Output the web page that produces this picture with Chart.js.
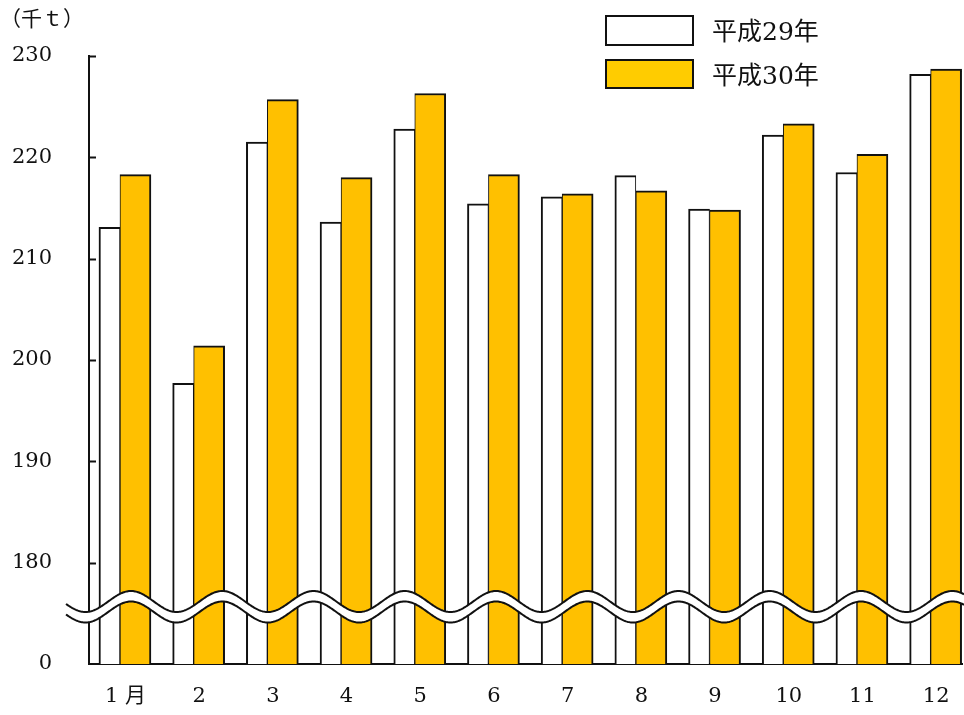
<!DOCTYPE html>
<html lang="ja">
<head>
  <meta charset="UTF-8">
  <title>月別 平成29年・平成30年（千t）</title>
  <style>
    html, body { margin: 0; padding: 0; background: #fff; }
    #wrap { width: 964px; height: 715px; }
  </style>
</head>
<body>
  <div id="wrap"><canvas id="chartCanvas" width="964" height="715"></canvas></div>

  <script src="https://cdn.jsdelivr.net/npm/chart.js"></script>
  <script>
    // 月ラベル
    const months = ['1 月', '2', '3', '4', '5', '6', '7', '8', '9', '10', '11', '12'];
    // 系列名
    const seriesNames = ['平成29年', '平成30年'];
    // 値（千t）
    const h29 = [213.1, 197.7, 221.5, 213.6, 222.8, 215.4, 216.1, 218.2, 214.9, 222.2, 218.5, 228.2];
    const h30 = [218.3, 201.4, 225.7, 218.0, 226.3, 218.3, 216.4, 216.7, 214.8, 223.3, 220.3, 228.7];
    // 縦軸（170 の位置に「0」を表示する省略軸）
    const yTicks = [170, 180, 190, 200, 210, 220, 230];
    const yTickLabels = ['0', '180', '190', '200', '210', '220', '230'];

    const numFont = "'DejaVu Serif', 'Liberation Serif', 'Noto Sans CJK JP', serif";
    const ink = '#111';

    // 軸の内向き目盛り・波線・単位・凡例
    const decorations = {
      id: 'decorations',
      afterDraw(chart) {
        const { ctx, chartArea } = chart;
        const y = chart.scales.y;
        ctx.save();

        // 内向きの目盛り
        ctx.strokeStyle = ink;
        ctx.lineWidth = 2;
        yTicks.slice(1).forEach(v => {
          const py = Math.round(y.getPixelForValue(v)) + 0.5;
          ctx.beginPath();
          ctx.moveTo(chartArea.left, py);
          ctx.lineTo(chartArea.left + 7, py);
          ctx.stroke();
        });

        // 省略の波線
        const P = 91.25, x0 = 131, amp = 10.5, gap = 10.5;
        const yc = chartArea.bottom - 62.5;
        const xs = 66, xe = chart.width;
        const wy = x => yc - amp * Math.cos(2 * Math.PI * (x - x0) / P);
        ctx.beginPath();
        for (let x = xs; x <= xe; x++) ctx.lineTo(x, wy(x));
        for (let x = xe; x >= xs; x--) ctx.lineTo(x, wy(x) + gap);
        ctx.closePath();
        ctx.fillStyle = '#fff';
        ctx.fill();
        [0, gap].forEach(off => {
          ctx.beginPath();
          for (let x = xs; x <= xe; x++) ctx.lineTo(x, wy(x) + off);
          ctx.stroke();
        });

        // 単位
        ctx.fillStyle = ink;
        ctx.textBaseline = 'middle';
        ctx.textAlign = 'left';
        ctx.font = "21px 'Noto Sans CJK JP', serif";
        ctx.fillText('（千ｔ）', 0, 18);

        // 凡例
        const fills = ['#ffffff', '#ffcc00'];
        const boxes = [[606, 16, 87, 29], [606, 60, 87, 28]];
        chart.data.datasets.forEach((ds, i) => {
          const [bx, by, bw, bh] = boxes[i];
          ctx.fillStyle = fills[i];
          ctx.fillRect(bx, by, bw, bh);
          ctx.lineWidth = 2;
          ctx.strokeStyle = ink;
          ctx.strokeRect(bx, by, bw, bh);
          ctx.fillStyle = ink;
          ctx.font = "25px " + numFont;
          ctx.fillText(ds.label, 712, by + bh / 2 + 3);
        });

        ctx.restore();
      }
    };

    const ctx = document.getElementById('chartCanvas').getContext('2d');
    const chart = new Chart(ctx, {
      type: 'bar',
      data: {
        datasets: [
          {
            label: seriesNames[0],
            data: h29.map((v, i) => ({ x: i + 1, y: v })),
            backgroundColor: '#ffffff',
            borderColor: ink,
            borderWidth: { top: 2, left: 2, right: 1, bottom: 0 },
            barThickness: 21
          },
          {
            label: seriesNames[1],
            data: h30.map((v, i) => ({ x: i + 1, y: v })),
            backgroundColor: '#ffc000',
            borderColor: ink,
            borderWidth: { top: 2, left: 1, right: 2, bottom: 0 },
            barThickness: 31
          }
        ]
      },
      options: {
        responsive: false,
        animation: false,
        devicePixelRatio: 1,
        layout: { padding: { top: 56, right: 0, bottom: 0, left: 0 } },
        plugins: {
          legend: { display: false },
          tooltip: { enabled: false }
        },
        scales: {
          x: {
            type: 'linear',
            offset: false,
            min: 0.58,
            max: 12.4335,
            z: 1,
            grid: { display: false, drawTicks: false, offset: false },
            border: { display: true, color: ink, width: 2 },
            afterBuildTicks: s => { s.ticks = months.map((m, i) => ({ value: i + 1 })); },
            afterFit: s => { s.height = 51; },
            ticks: {
              autoSkip: false,
              maxRotation: 0,
              padding: 20,
              labelOffset: 5.5,
              color: ink,
              font: { family: numFont, size: 21 },
              callback: v => months[v - 1]
            }
          },
          y: {
            min: 170,
            max: 230,
            beginAtZero: false,
            grid: { display: false, drawTicks: false },
            border: { display: true, color: ink, width: 2 },
            afterBuildTicks: s => { s.ticks = yTicks.map(v => ({ value: v })); },
            afterFit: s => { s.width = 89; },
            ticks: {
              padding: 37,
              color: ink,
              font: { family: numFont, size: 21 },
              callback: v => yTickLabels[yTicks.indexOf(v)]
            }
          }
        }
      },
      plugins: [decorations]
    });
  </script>
</body>
</html>
